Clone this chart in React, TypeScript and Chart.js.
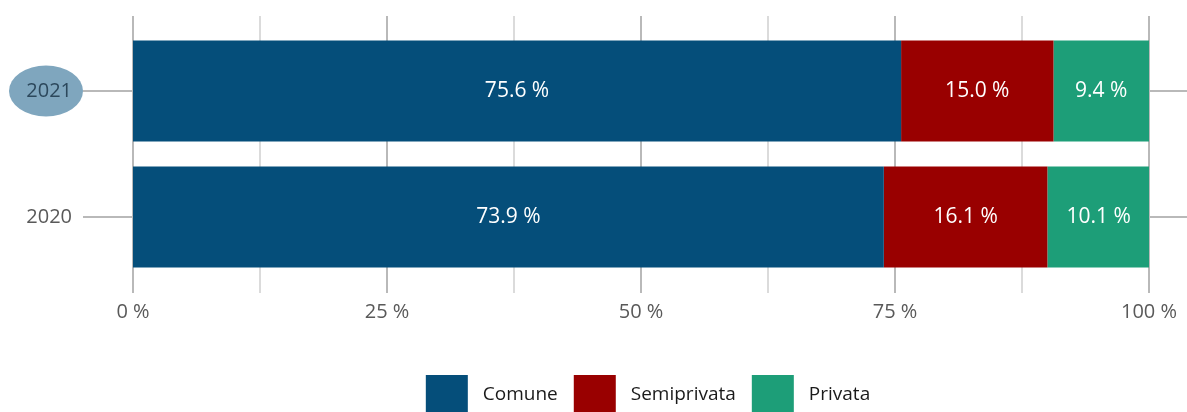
import React, { useEffect, useRef } from "react";
import { Chart, registerables } from "chart.js";

Chart.register(...registerables);

const categories = ["2021", "2020"];
const seriesNames = ["Comune", "Semiprivata", "Privata"];
const comune = [75.6, 73.9];
const semiprivata = [15.0, 16.1];
const privata = [9.4, 10.1];
const highlightedCategory = "2021";

const COLORS = ["#054e7a", "#990000", "#1d9e78"];
const FONT = "'Open Sans', 'Noto Sans', sans-serif";

export default function App() {
  const ref = useRef<HTMLCanvasElement>(null);

  useEffect(() => {
    const canvas = ref.current!;
    const seriesValues = [comune, semiprivata, privata];

    const plugin = {
      id: "customDecor",
      beforeDraw(chart: any) {
        const y = chart.scales.y;
        const idx = categories.indexOf(highlightedCategory);
        if (idx < 0) return;
        const cy = y.getPixelForValue(idx);
        const ctx = chart.ctx;
        ctx.save();
        ctx.fillStyle = "#7fa6be";
        ctx.beginPath();
        ctx.ellipse(46, cy, 37, 25.5, 0, 0, Math.PI * 2);
        ctx.fill();
        ctx.restore();
      },
      beforeDatasetsDraw(chart: any) {
        const x = chart.scales.x;
        const y = chart.scales.y;
        const area = chart.chartArea;
        const ctx = chart.ctx;
        ctx.save();
        for (let v = 0; v <= 100; v += 12.5) {
          const px = Math.round(x.getPixelForValue(v));
          const major = v % 25 === 0;
          ctx.strokeStyle = major ? "#b9b9b9" : "#cfcfcf";
          ctx.lineWidth = major ? 2 : 1.5;
          ctx.beginPath();
          ctx.moveTo(px, area.top - 12);
          ctx.lineTo(px, area.bottom + 13);
          ctx.stroke();
        }
        ctx.strokeStyle = "#b9b9b9";
        ctx.lineWidth = 2;
        categories.forEach((_, i) => {
          const py = Math.round(y.getPixelForValue(i));
          ctx.beginPath();
          ctx.moveTo(area.right + 1, py);
          ctx.lineTo(chart.width, py);
          ctx.stroke();
        });
        ctx.restore();
      },
      afterDatasetsDraw(chart: any) {
        const ctx = chart.ctx;
        ctx.save();
        ctx.fillStyle = "#ffffff";
        ctx.font = `21px ${FONT}`;
        ctx.textAlign = "center";
        ctx.textBaseline = "middle";
        chart.data.datasets.forEach((ds: any, di: number) => {
          const meta = chart.getDatasetMeta(di);
          meta.data.forEach((el: any, i: number) => {
            const v = seriesValues[di][i];
            const cx = (el.x + el.base) / 2;
            ctx.fillText(`${v.toFixed(1)} %`, cx, el.y);
          });
        });
        ctx.restore();
      },
      afterDraw(chart: any) {
        const ctx = chart.ctx;
        ctx.save();
        ctx.font = `19px ${FONT}`;
        const boxW = 42;
        const boxH = 37;
        const gapText = 15;
        const gapItem = 16;
        const widths = seriesNames.map((n) => boxW + gapText + ctx.measureText(n).width);
        const total = widths.reduce((a, b) => a + b, 0) + gapItem * (seriesNames.length - 1);
        const area = chart.chartArea;
        let xPos = (area.left + area.right) / 2 + 7 - total / 2;
        const top = 375;
        seriesNames.forEach((n, i) => {
          ctx.fillStyle = COLORS[i];
          ctx.fillRect(xPos, top, boxW, boxH);
          ctx.fillStyle = "#1a1a1a";
          ctx.textAlign = "left";
          ctx.textBaseline = "middle";
          ctx.fillText(n, xPos + boxW + gapText, top + boxH / 2 + 1);
          xPos += widths[i] + gapItem;
        });
        ctx.restore();
      },
    };

    const chart = new Chart(canvas, {
      type: "bar",
      data: {
        labels: categories,
        datasets: seriesNames.map((name, i) => ({
          label: name,
          data: seriesValues[i],
          backgroundColor: COLORS[i],
          borderWidth: 0,
          barPercentage: 0.8,
          categoryPercentage: 1,
        })),
      },
      options: {
        indexAxis: "y",
        responsive: false,
        animation: false,
        devicePixelRatio: 1,
        layout: { padding: { top: 28, right: 38, bottom: 92, left: 0 } },
        plugins: {
          legend: { display: false },
          tooltip: { enabled: false },
        },
        scales: {
          x: {
            type: "linear",
            stacked: true,
            min: 0,
            max: 100,
            grid: { display: false, drawTicks: false },
            border: { display: false },
            ticks: {
              stepSize: 25,
              padding: 20,
              color: "#595959",
              font: { family: FONT, size: 20 },
              callback: (v: any) => `${v} %`,
            },
            afterFit: (axis: any) => {
              axis.height = 40;
              axis.paddingLeft = 0;
              axis.paddingRight = 0;
            },
          },
          y: {
            type: "category",
            stacked: true,
            grid: {
              drawOnChartArea: false,
              drawTicks: true,
              tickLength: 50,
              offset: false,
              color: "#b9b9b9",
              lineWidth: 2,
            },
            border: { display: false },
            ticks: {
              padding: 11,
              font: { family: FONT, size: 20 },
              color: (c: any) =>
                categories[c.index] === highlightedCategory ? "#2c485c" : "#595959",
            },
            afterFit: (axis: any) => {
              axis.width = 133;
              axis.paddingTop = 0;
              axis.paddingBottom = 0;
            },
          },
        },
      },
      plugins: [plugin],
    } as any);

    return () => chart.destroy();
  }, []);

  return (
    <div style={{ position: "absolute", left: 0, top: 0, width: 1187, height: 412 }}>
      <canvas ref={ref} width={1187} height={412} style={{ display: "block" }} />
    </div>
  );
}
